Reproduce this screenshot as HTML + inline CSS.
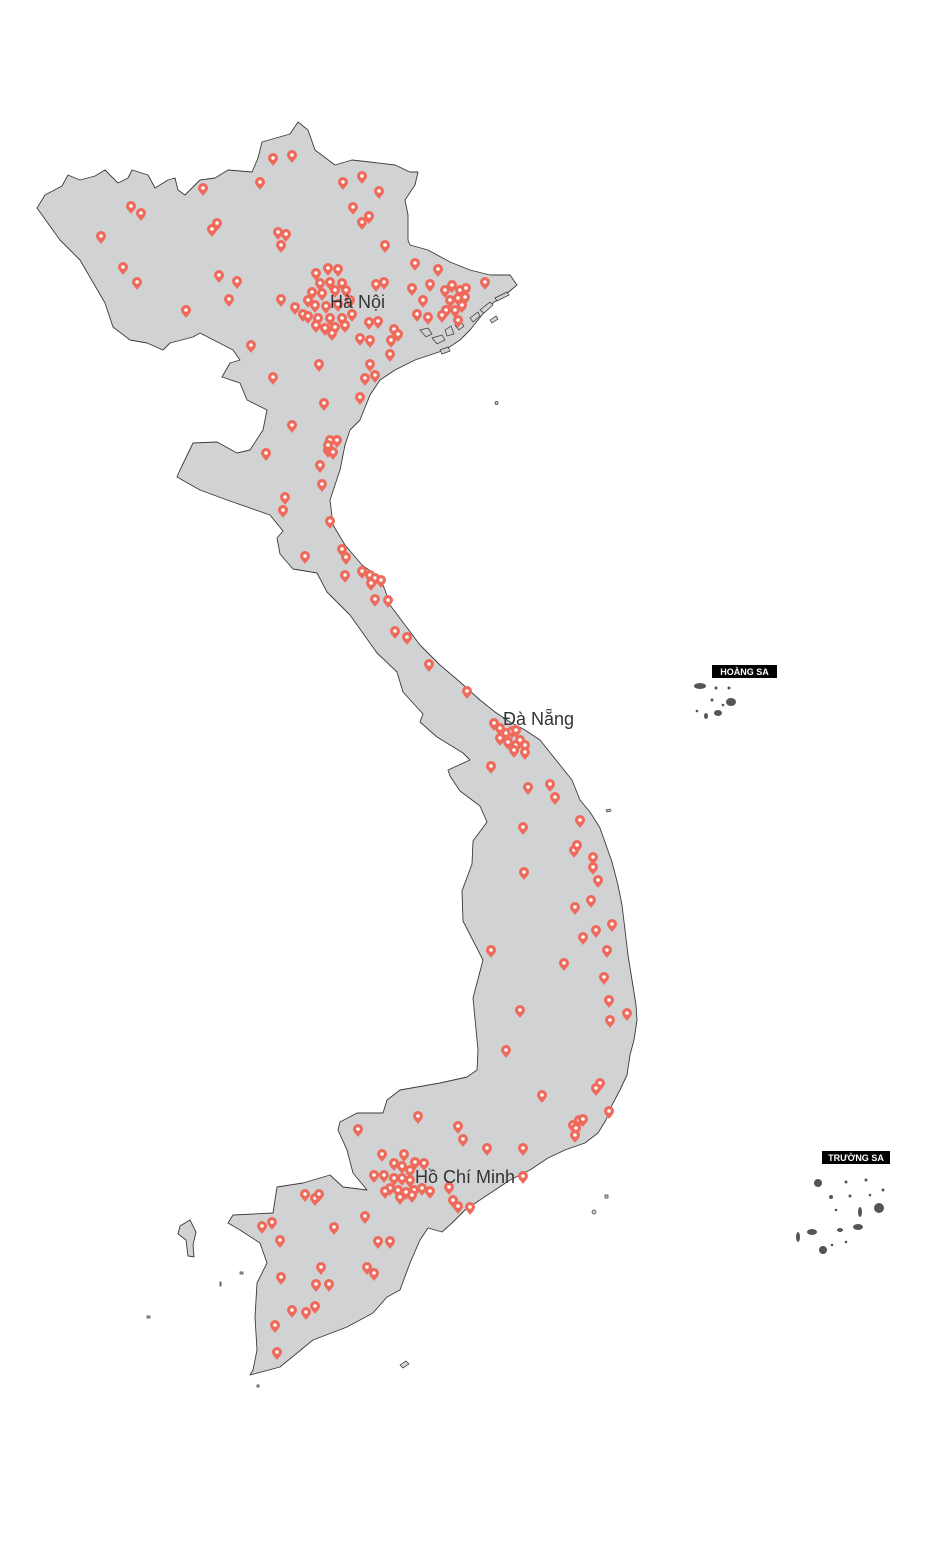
<!DOCTYPE html>
<html><head><meta charset="utf-8"><style>
html,body{margin:0;padding:0;background:#fff}
svg{display:block}
.city{font-family:"Liberation Sans",sans-serif;font-size:18px;fill:#333}
.tag{font-family:"Liberation Sans",sans-serif;font-size:9px;font-weight:bold;fill:#fff}
</style></head><body>
<svg id="map" width="936" height="1559" viewBox="0 0 936 1559" xmlns="http://www.w3.org/2000/svg">
<polygon fill="#d1d2d4" stroke="#3a3a3a" stroke-width="0.9" stroke-linejoin="round" points="37,208 45,195 62,186 68,175 80,180 95,176 105,170 118,183 128,178 132,170 148,175 155,188 168,180 175,178 178,190 185,195 200,180 215,178 228,170 252,172 258,158 262,142 290,134 298,122 308,130 315,150 335,165 352,160 370,162 395,165 410,172 418,172 415,185 405,200 408,215 408,240 410,245 428,250 450,262 470,270 490,275 510,275 517,285 505,295 490,305 470,330 460,340 445,350 430,355 415,360 395,370 380,380 370,395 360,420 350,430 345,445 340,470 330,500 333,525 345,545 362,565 380,578 385,590 390,605 405,625 420,645 440,665 460,682 480,700 495,712 510,722 525,730 540,740 548,750 560,765 572,780 580,800 590,812 600,828 606,845 612,862 618,885 622,905 625,930 628,955 632,980 636,1005 637,1020 634,1040 630,1055 627,1075 620,1090 612,1105 606,1120 598,1133 585,1143 565,1150 548,1158 530,1170 510,1180 495,1190 480,1200 465,1210 452,1223 442,1232 428,1228 420,1240 410,1263 400,1290 387,1297 373,1313 347,1327 313,1340 280,1367 250,1375 253,1370 257,1350 255,1317 257,1283 267,1263 260,1243 240,1230 228,1223 233,1215 273,1213 277,1187 303,1183 330,1175 343,1187 367,1190 353,1173 347,1150 338,1130 340,1122 357,1113 383,1113 387,1100 400,1090 440,1083 467,1077 477,1070 478,1050 473,998 483,960 463,921 462,891 472,864 473,841 487,822 480,806 460,791 450,776 448,770 470,760 463,753 437,737 420,722 423,714 403,692 397,672 377,653 350,615 327,592 317,573 293,569 280,554 277,538 283,531 270,515 227,500 200,490 177,477 180,470 193,443 217,442 237,453 250,450 263,430 267,410 247,400 240,383 222,377 230,363 240,360 233,350 200,333 193,337 170,343 163,350 147,343 130,340 113,327 105,303 80,260 60,240"/>
<polygon fill="#d1d2d4" stroke="#3a3a3a" stroke-width="0.9" points="180,1226 190,1220 196,1232 193,1245 194,1257 188,1256 186,1240 178,1234"/>
<g fill="#d1d2d4" stroke="#333" stroke-width="0.7">
<path d="M420,330 l8,-2 4,6 -6,3z M432,338 l10,-3 3,5 -8,4z M445,330 l6,-4 3,8 -7,2z M455,325 l5,-5 4,6 -5,4z M470,318 l8,-6 2,4 -7,6z M480,310 l10,-8 3,3 -9,8z M495,298 l12,-6 2,3 -12,6z M490,320 l6,-4 2,3 -6,4z M440,350 l8,-3 2,4 -8,3z M605,1195 l3,0 0,3 -3,0z M400,1365 l6,-4 3,3 -6,4z M257,1385 l2,0 0,2 -2,0z M147,1316 l3,0 0,2 -3,0z M592,1212 a2,2 0 1 0 4,0 a2,2 0 1 0 -4,0z M495,403 a1.5,1.5 0 1 0 3,0 a1.5,1.5 0 1 0 -3,0z M606,810 l4,-1 1,2 -4,1z M220,1282 l1,0 0,4 -1,0z M240,1272 l3,0 0,2 -3,0z"/>
</g>
<g>
<rect x="712" y="665" width="65" height="13" fill="#000"/>
<text class="tag" x="744.5" y="675" text-anchor="middle">HOÀNG SA</text>
<g fill="#555">
<ellipse cx="700" cy="686" rx="6" ry="3"/><ellipse cx="731" cy="702" rx="5" ry="4"/><ellipse cx="718" cy="713" rx="4" ry="3"/><ellipse cx="706" cy="716" rx="2" ry="3"/><circle cx="716" cy="688" r="1.5"/><circle cx="729" cy="688" r="1.5"/><circle cx="712" cy="700" r="1.5"/><circle cx="697" cy="711" r="1.3"/><circle cx="723" cy="705" r="1.3"/>
</g></g>
<g>
<rect x="822" y="1151" width="68" height="13" fill="#000"/>
<text class="tag" x="856" y="1161" text-anchor="middle">TRƯỜNG SA</text>
<g fill="#555">
<ellipse cx="818" cy="1183" rx="4" ry="4"/><ellipse cx="879" cy="1208" rx="5" ry="5"/><ellipse cx="860" cy="1212" rx="2" ry="5"/><ellipse cx="858" cy="1227" rx="5" ry="3"/><ellipse cx="823" cy="1250" rx="4" ry="4"/><ellipse cx="812" cy="1232" rx="5" ry="3"/><ellipse cx="798" cy="1237" rx="2" ry="5"/><ellipse cx="840" cy="1230" rx="3" ry="2"/><circle cx="831" cy="1197" r="2"/><circle cx="846" cy="1182" r="1.5"/><circle cx="866" cy="1180" r="1.5"/><circle cx="883" cy="1190" r="1.5"/><circle cx="850" cy="1196" r="1.5"/><circle cx="836" cy="1210" r="1.3"/><circle cx="846" cy="1242" r="1.3"/><circle cx="832" cy="1245" r="1.3"/><circle cx="870" cy="1195" r="1.3"/>
</g></g>
<g id="markers"></g>
<text class="city" x="330" y="308">Hà Nội</text>
<text class="city" x="503" y="725">Đà Nẵng</text>
<text class="city" x="415" y="1183">Hồ Chí Minh</text>
</svg>
<script>
const markerX = [101,131,141,123,137,186,203,212,217,219,237,229,260,273,292,278,286,281,343,362,379,353,369,362,385,415,438,485,412,430,423,417,428,376,384,369,378,394,398,391,390,370,360,370,375,365,360,319,273,251,281,295,303,308,324,292,266,320,322,285,283,330,305,342,346,345,362,370,375,371,381,375,388,395,407,429,467,
316,328,338,320,330,342,312,322,335,346,315,326,338,350,318,330,342,352,325,335,345,308,316,332,
330,337,328,333,328,
445,452,460,466,450,458,465,446,455,462,442,458,
494,500,506,512,516,500,508,516,525,514,525,520,
491,528,550,555,523,580,574,577,593,593,598,524,591,575,612,596,583,607,491,564,604,609,627,610,520,506,542,600,596,609,573,576,575,579,583,418,458,463,487,523,523,358,
382,404,415,424,394,402,410,374,384,394,402,410,390,398,406,414,422,430,385,400,412,
449,453,458,470,
305,315,319,262,272,280,334,365,378,390,367,374,321,316,329,281,292,306,315,275,277];
const markerY = [236,206,213,267,282,310,188,229,223,275,281,299,182,158,155,232,234,245,182,176,191,207,216,222,245,263,269,282,288,284,300,314,317,284,282,322,321,329,334,340,354,340,338,364,375,378,397,364,377,345,299,307,314,316,403,425,453,465,484,497,510,521,556,549,557,575,571,575,578,583,580,599,600,631,637,664,691,
273,268,269,283,282,283,292,293,290,290,305,306,304,300,318,318,318,314,328,327,325,300,325,333,
440,440,450,452,445,
290,285,290,288,300,298,297,310,310,305,315,320,
723,728,733,731,730,738,742,745,745,750,752,740,
766,787,784,797,827,820,850,845,857,867,880,872,900,907,924,930,937,950,950,963,977,1000,1013,1020,1010,1050,1095,1083,1088,1111,1125,1128,1135,1120,1119,1116,1126,1139,1148,1148,1176,1129,
1154,1154,1162,1163,1163,1166,1170,1175,1175,1178,1178,1180,1188,1190,1192,1190,1188,1191,1191,1197,1195,
1187,1200,1206,1207,
1194,1198,1194,1226,1222,1240,1227,1216,1241,1241,1267,1273,1267,1284,1284,1277,1310,1312,1306,1325,1352];
const NS = 'http://www.w3.org/2000/svg';
const g = document.getElementById('markers');
for (let i = 0; i < markerX.length; i++) {
  const cx = markerX[i], cy = markerY[i];
  const p = document.createElementNS(NS, 'path');
  p.setAttribute('d', `M${cx-5},${cy} a5,5 0 1 1 10,0 c0,3 -3,5 -5,8 c-2,-3 -5,-5 -5,-8z`);
  p.setAttribute('fill', '#ee6a5a');
  
  
  g.appendChild(p);
  const d = document.createElementNS(NS, 'circle');
  d.setAttribute('cx', cx); d.setAttribute('cy', cy); d.setAttribute('r', 1.8);
  d.setAttribute('fill', '#fff');
  
  
  g.appendChild(d);
}
</script>
</body></html>
